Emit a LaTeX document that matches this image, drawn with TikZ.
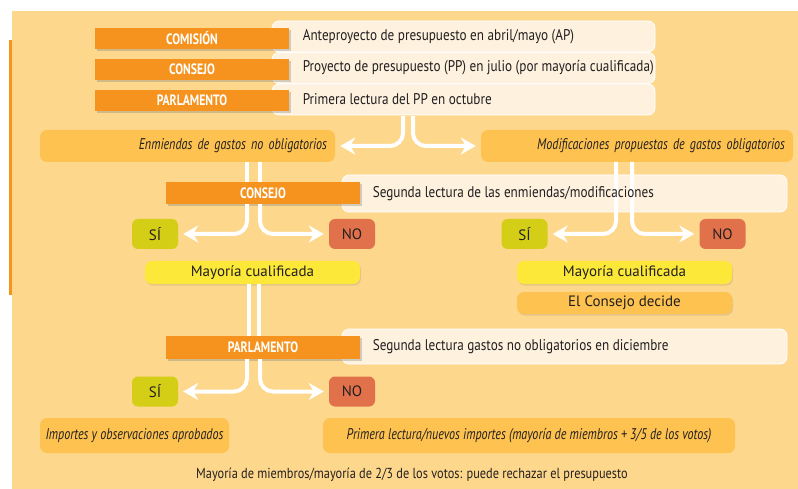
\documentclass[tikz,border=0pt]{standalone}
\usepackage{fontspec}
\setmainfont{PT Sans}
\newfontfamily\condfont{PT Sans}[FakeStretch=0.85]
\newfontfamily\narrowfont{PT Sans}[FakeStretch=0.78]
\usepackage{tikz}
\usetikzlibrary{arrows.meta,shadows}
\definecolor{bgpeach}{HTML}{FDD78C}
\definecolor{orangec}{HTML}{F6921E}
\definecolor{creamc}{HTML}{FEF2DF}
\definecolor{amberc}{HTML}{FDC24F}
\definecolor{yellowc}{HTML}{FBE839}
\definecolor{sic}{HTML}{D4CE17}
\definecolor{noc}{HTML}{E0714A}
\definecolor{inkc}{HTML}{231F20}

\begin{document}
\begin{tikzpicture}[x=1pt,y=-1pt]
  \tikzset{font={\fontsize{15.5pt}{17pt}\condfont}, text=inkc,
    orangebox/.style={fill=orangec, text=white, font={\fontsize{15pt}{17pt}\narrowfont\bfseries},
      minimum width=194pt, minimum height=21pt, inner sep=0pt,
      drop shadow={shadow xshift=1.5pt,shadow yshift=-2pt,opacity=.35}},
    creambox/.style={fill=creamc, draw=white, line width=.8pt, rounded corners=7pt, inner sep=0pt},
    amberbox/.style={fill=amberc, rounded corners=7pt, inner sep=0pt,
      font={\fontsize{15.5pt}{17pt}\narrowfont\itshape}},
    votebox/.style={rounded corners=6pt, minimum width=46pt, minimum height=30pt, inner sep=0pt,
      font=\fontsize{15pt}{17pt}\selectfont},
    yellowbox/.style={fill=yellowc, rounded corners=7pt, minimum width=215pt, minimum height=23pt,
      inner sep=0pt, font=\fontsize{15pt}{17pt}\selectfont,
      drop shadow={shadow xshift=1pt,shadow yshift=-1.5pt,opacity=.2}},
    warrow/.style={white, line width=4pt, rounded corners=13pt,
      -{Stealth[length=15pt,width=17pt,inset=5pt]}, shorten >=5pt},
    wline/.style={white, line width=4pt}}
  \useasboundingbox (0,0) rectangle (798,489);
  \fill[bgpeach] (12,11) rectangle (798,489);
  \fill[orangec] (9,40) rectangle (12,295);

  % first reading
  \node[creambox, minimum width=383pt, minimum height=31pt] (apbox) at (463.5,36.5) {};
  \node[creambox, minimum width=383pt, minimum height=31pt] (ppbox) at (463.5,68) {};
  \node[creambox, minimum width=383pt, minimum height=31pt] (plbox) at (463.5,99.5) {};
  \node[orangebox] (comision) at (192,38.5) {COMISIÓN};
  \node[orangebox] (consejoA) at (192,69.5) {CONSEJO};
  \node[orangebox] (parlA) at (192,100.5) {PARLAMENTO};
  \node[anchor=west, inner sep=0pt] (aptext) at ([xshift=31pt]apbox.west) {Anteproyecto de presupuesto en abril/mayo (AP)};
  \node[anchor=west, inner sep=0pt] (pptext) at ([xshift=31pt]ppbox.west) {Proyecto de presupuesto (PP) en julio (por mayoría cualificada)};
  \node[anchor=west, inner sep=0pt] (pltext) at ([xshift=31pt]plbox.west) {Primera lectura del PP en octubre};

  \node[amberbox, minimum width=295pt, minimum height=32pt, text width=279pt, align=right] (enm) at (187.5,146) {Enmiendas de gastos no obligatorios};
  \node[amberbox, minimum width=312pt, minimum height=32pt, text width=296pt, align=right] (modif) at (637,146) {Modificaciones propuestas de gastos obligatorios};
  \coordinate (fork) at (408,116);
  \draw[warrow] ([xshift=-5pt]fork) |- (enm.east);
  \draw[warrow] ([xshift=5pt]fork) |- (modif.west);

  % second reading, council
  \node[creambox, minimum width=445pt, minimum height=37pt] (slbox) at (564.5,193.5) {};
  \node[orangebox, minimum height=22pt] (consejoB) at (263,193) {CONSEJO};
  \node[votebox, fill=sic] (siA) at (155,234) {SÍ};
  \node[votebox, fill=noc] (noA) at (352,234) {NO};
  \node[votebox, fill=sic] (siB) at (524.5,234) {SÍ};
  \node[votebox, fill=noc] (noB) at (722.5,234) {NO};
  \node[yellowbox] (mayA) at (252.5,272.5) {Mayoría cualificada};
  \node[yellowbox] (mayB) at (624.5,272.5) {Mayoría cualificada};
  \node[yellowbox, fill=amberc, minimum height=22pt] (decide) at (624.5,303) {El Consejo decide};

  \coordinate (stemL) at (253.5,162);
  \coordinate (stemR) at (624,162);
  \draw[wline] ([xshift=-6.5pt]stemL) -- ([xshift=-6.5pt]stemL |- consejoB.north);
  \draw[wline] ([xshift=6.5pt]stemL) -- ([xshift=6.5pt]stemL |- consejoB.north);
  \draw[warrow] ([xshift=-6.5pt]stemL |- consejoB.south) |- (siA.east);
  \draw[warrow] ([xshift=6.5pt]stemL |- consejoB.south) |- (noA.west);
  \draw[warrow] ([xshift=-8pt]stemR) |- (siB.east);
  \draw[warrow] ([xshift=8pt]stemR) |- (noB.west);
  \node[anchor=west, inner sep=0pt] (sltext) at ([xshift=31pt]slbox.west) {Segunda lectura de las enmiendas/modificaciones};

  % second reading, parliament
  \node[creambox, minimum width=445pt, minimum height=35pt] (dcbox) at (564.5,346.5) {};
  \node[orangebox, minimum height=23pt] (parlB) at (263,347.5) {PARLAMENTO};
  \node[anchor=west, inner sep=0pt] (dctext) at ([xshift=31pt]dcbox.west) {Segunda lectura gastos no obligatorios en diciembre};
  \draw[wline] ([xshift=-5pt]stemL |- mayA.south) -- ([xshift=-5pt]stemL |- parlB.north);
  \draw[wline] ([xshift=5pt]stemL |- mayA.south) -- ([xshift=5pt]stemL |- parlB.north);
  \node[votebox, fill=sic] (siC) at (155,391.5) {SÍ};
  \node[votebox, fill=noc] (noC) at (352,391.5) {NO};
  \draw[warrow] ([xshift=-6.5pt]stemL |- parlB.south) |- (siC.east);
  \draw[warrow] ([xshift=6.5pt]stemL |- parlB.south) |- (noC.west);

  \node[amberbox, minimum width=189pt, minimum height=35pt] (aprob) at (134.5,435.5) {Importes y observaciones aprobados};
  \node[amberbox, minimum width=412pt, minimum height=35pt] (nuevos) at (529,435.5) {Primera lectura/nuevos importes (mayoría de miembros + 3/5 de los votos)};
  \node[inner sep=0pt, font={\fontsize{14.5pt}{16pt}\condfont}] (rechazo) at (412,475) {Mayoría de miembros/mayoría de 2/3 de los votos: puede rechazar el presupuesto};
\end{tikzpicture}
\end{document}
